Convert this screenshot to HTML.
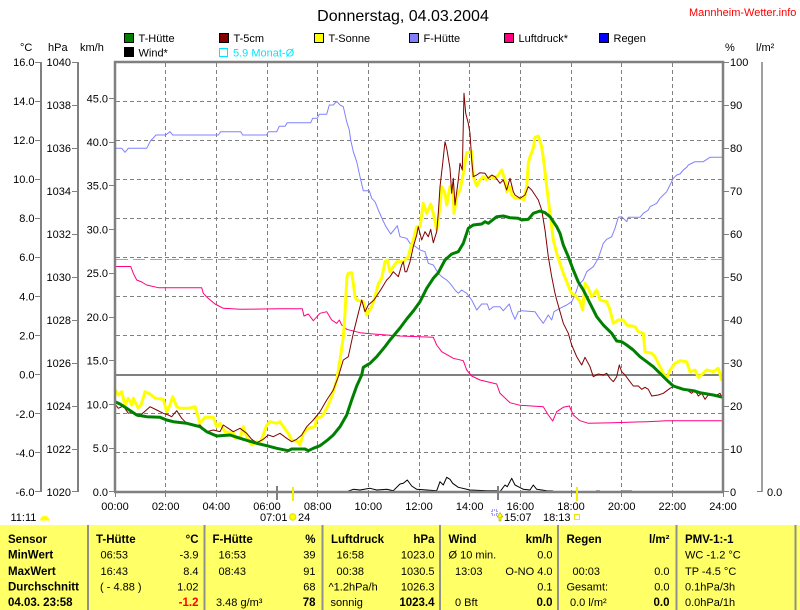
<!DOCTYPE html>
<html><head><meta charset="utf-8"><style>
html,body{margin:0;padding:0;background:#fff;width:800px;height:610px;overflow:hidden}
svg{display:block}
text{font-family:"Liberation Sans",Arial,sans-serif;font-size:11px;fill:#000}
.b{font-weight:bold;font-size:11.5px}
.e{text-anchor:end}
.m{text-anchor:middle}
</style></head><body>
<svg width="800" height="610" viewBox="0 0 800 610" xmlns="http://www.w3.org/2000/svg">
<rect width="800" height="610" fill="#fff"/>
<!-- title -->
<text x="403" y="21" class="m" style="font-size:16px">Donnerstag, 04.03.2004</text>
<text x="689" y="16" style="fill:#f00">Mannheim-Wetter.info</text>
<!-- legend -->
<g stroke="#000" stroke-width="1">
<rect x="124.5" y="33.5" width="9" height="9" fill="#008000"/>
<rect x="219.5" y="33.5" width="9" height="9" fill="#800000"/>
<rect x="314.5" y="33.5" width="9" height="9" fill="#ffff00"/>
<rect x="409.5" y="33.5" width="9" height="9" fill="#8080ff"/>
<rect x="504.5" y="33.5" width="9" height="9" fill="#ff0080"/>
<rect x="599.5" y="33.5" width="9" height="9" fill="#0000ff"/>
<rect x="124.5" y="47.5" width="9" height="9" fill="#000"/>
</g>
<rect x="219.5" y="48.5" width="8" height="8" fill="none" stroke="#00e8ff" stroke-width="1"/>
<text x="138.5" y="42">T-Hütte</text>
<text x="233.5" y="42">T-5cm</text>
<text x="328.5" y="42">T-Sonne</text>
<text x="423.5" y="42">F-Hütte</text>
<text x="518.5" y="42">Luftdruck*</text>
<text x="613.5" y="42">Regen</text>
<text x="138.5" y="56.5">Wind*</text>
<text x="233" y="56.5" style="fill:#00e8ff">5.9 Monat-Ø</text>
<!-- axis headers -->
<text x="20" y="51">°C</text>
<text x="48" y="51">hPa</text>
<text x="80" y="51">km/h</text>
<text x="725" y="51">%</text>
<text x="756" y="51">l/m²</text>
<!-- left axis lines -->
<g stroke="#808080" stroke-width="2" shape-rendering="crispEdges">
<line x1="41" y1="62" x2="41" y2="492"/>
<line x1="78" y1="62" x2="78" y2="492"/>
</g>
<line x1="762" y1="62" x2="762" y2="492" stroke="#808080" stroke-width="1.5"/>
<g stroke="#808080" stroke-width="1" shape-rendering="crispEdges">
<!-- C ticks -->
<line x1="35" y1="62.5" x2="41" y2="62.5"/><line x1="35" y1="101.5" x2="41" y2="101.5"/><line x1="35" y1="140.5" x2="41" y2="140.5"/><line x1="35" y1="179.5" x2="41" y2="179.5"/><line x1="35" y1="218.5" x2="41" y2="218.5"/><line x1="35" y1="257.5" x2="41" y2="257.5"/><line x1="35" y1="296.5" x2="41" y2="296.5"/><line x1="35" y1="335.5" x2="41" y2="335.5"/><line x1="35" y1="374.5" x2="41" y2="374.5"/><line x1="35" y1="413.5" x2="41" y2="413.5"/><line x1="35" y1="452.5" x2="41" y2="452.5"/><line x1="35" y1="491.5" x2="41" y2="491.5"/>
<!-- hPa ticks -->
<line x1="72" y1="62.5" x2="78" y2="62.5"/><line x1="72" y1="105.5" x2="78" y2="105.5"/><line x1="72" y1="148.5" x2="78" y2="148.5"/><line x1="72" y1="191.5" x2="78" y2="191.5"/><line x1="72" y1="234.5" x2="78" y2="234.5"/><line x1="72" y1="277.5" x2="78" y2="277.5"/><line x1="72" y1="320.5" x2="78" y2="320.5"/><line x1="72" y1="363.5" x2="78" y2="363.5"/><line x1="72" y1="406.5" x2="78" y2="406.5"/><line x1="72" y1="449.5" x2="78" y2="449.5"/><line x1="72" y1="491.5" x2="78" y2="491.5"/>
<!-- km/h ticks -->
<line x1="109" y1="98.5" x2="115" y2="98.5"/><line x1="109" y1="142.5" x2="115" y2="142.5"/><line x1="109" y1="185.5" x2="115" y2="185.5"/><line x1="109" y1="229.5" x2="115" y2="229.5"/><line x1="109" y1="273.5" x2="115" y2="273.5"/><line x1="109" y1="317.5" x2="115" y2="317.5"/><line x1="109" y1="360.5" x2="115" y2="360.5"/><line x1="109" y1="404.5" x2="115" y2="404.5"/><line x1="109" y1="448.5" x2="115" y2="448.5"/><line x1="109" y1="491.5" x2="115" y2="491.5"/>
<!-- % ticks -->
<line x1="723" y1="62.5" x2="729" y2="62.5"/><line x1="723" y1="105.5" x2="729" y2="105.5"/><line x1="723" y1="148.5" x2="729" y2="148.5"/><line x1="723" y1="191.5" x2="729" y2="191.5"/><line x1="723" y1="234.5" x2="729" y2="234.5"/><line x1="723" y1="277.5" x2="729" y2="277.5"/><line x1="723" y1="320.5" x2="729" y2="320.5"/><line x1="723" y1="363.5" x2="729" y2="363.5"/><line x1="723" y1="406.5" x2="729" y2="406.5"/><line x1="723" y1="449.5" x2="729" y2="449.5"/><line x1="723" y1="491.5" x2="729" y2="491.5"/>
<line x1="757" y1="491.5" x2="762" y2="491.5"/>
<!-- x ticks -->
<line x1="115.5" y1="492" x2="115.5" y2="497"/><line x1="165.5" y1="492" x2="165.5" y2="497"/><line x1="216.5" y1="492" x2="216.5" y2="497"/><line x1="267.5" y1="492" x2="267.5" y2="497"/><line x1="317.5" y1="492" x2="317.5" y2="497"/><line x1="368.5" y1="492" x2="368.5" y2="497"/><line x1="419.5" y1="492" x2="419.5" y2="497"/><line x1="469.5" y1="492" x2="469.5" y2="497"/><line x1="520.5" y1="492" x2="520.5" y2="497"/><line x1="571.5" y1="492" x2="571.5" y2="497"/><line x1="621.5" y1="492" x2="621.5" y2="497"/><line x1="672.5" y1="492" x2="672.5" y2="497"/><line x1="723.5" y1="492" x2="723.5" y2="497"/>
</g>
<!-- axis labels -->
<g class="e">
<text class="e" x="34.5" y="66">16.0</text><text class="e" x="34.5" y="105">14.0</text><text class="e" x="34.5" y="144">12.0</text><text class="e" x="34.5" y="183">10.0</text><text class="e" x="34.5" y="222">8.0</text><text class="e" x="34.5" y="261">6.0</text><text class="e" x="34.5" y="300.5">4.0</text><text class="e" x="34.5" y="339.5">2.0</text><text class="e" x="34.5" y="378.5">0.0</text><text class="e" x="34.5" y="418">-2.0</text><text class="e" x="34.5" y="457">-4.0</text><text class="e" x="34.5" y="496">-6.0</text>
<text class="e" x="71" y="66">1040</text><text class="e" x="71" y="109">1038</text><text class="e" x="71" y="152">1036</text><text class="e" x="71" y="195">1034</text><text class="e" x="71" y="238">1032</text><text class="e" x="71" y="281">1030</text><text class="e" x="71" y="324">1028</text><text class="e" x="71" y="367">1026</text><text class="e" x="71" y="410">1024</text><text class="e" x="71" y="453">1022</text><text class="e" x="71" y="496">1020</text>
<text class="e" x="108" y="102.3">45.0</text><text class="e" x="108" y="146">40.0</text><text class="e" x="108" y="189.7">35.0</text><text class="e" x="108" y="233.5">30.0</text><text class="e" x="108" y="277.2">25.0</text><text class="e" x="108" y="321">20.0</text><text class="e" x="108" y="364.7">15.0</text><text class="e" x="108" y="408.5">10.0</text><text class="e" x="108" y="452.2">5.0</text><text class="e" x="108" y="496">0.0</text>
</g>
<text x="730" y="66">100</text><text x="730" y="109">90</text><text x="730" y="152">80</text><text x="730" y="195">70</text><text x="730" y="238">60</text><text x="730" y="281">50</text><text x="730" y="324">40</text><text x="730" y="367">30</text><text x="730" y="410">20</text><text x="730" y="453">10</text><text x="730" y="496">0</text>
<text x="767" y="496">0.0</text>
<g class="m">
<text class="m" x="115" y="510">00:00</text><text class="m" x="165.7" y="510">02:00</text><text class="m" x="216.3" y="510">04:00</text><text class="m" x="267" y="510">06:00</text><text class="m" x="317.7" y="510">08:00</text><text class="m" x="368.3" y="510">10:00</text><text class="m" x="419" y="510">12:00</text><text class="m" x="469.7" y="510">14:00</text><text class="m" x="520.3" y="510">16:00</text><text class="m" x="571" y="510">18:00</text><text class="m" x="621.7" y="510">20:00</text><text class="m" x="672.3" y="510">22:00</text><text class="m" x="723" y="510">24:00</text>
</g>
<!-- grid -->
<g stroke="#808080" stroke-width="1" stroke-dasharray="4,3" shape-rendering="crispEdges">
<line x1="116" y1="101.5" x2="722" y2="101.5"/><line x1="116" y1="140.5" x2="722" y2="140.5"/><line x1="116" y1="179.5" x2="722" y2="179.5"/><line x1="116" y1="218.5" x2="722" y2="218.5"/><line x1="116" y1="257.5" x2="722" y2="257.5"/><line x1="116" y1="296.5" x2="722" y2="296.5"/><line x1="116" y1="335.5" x2="722" y2="335.5"/><line x1="116" y1="413.5" x2="722" y2="413.5"/><line x1="116" y1="452.5" x2="722" y2="452.5"/>
<line x1="165.5" y1="63" x2="165.5" y2="491"/><line x1="216.5" y1="63" x2="216.5" y2="491"/><line x1="267.5" y1="63" x2="267.5" y2="491"/><line x1="317.5" y1="63" x2="317.5" y2="491"/><line x1="368.5" y1="63" x2="368.5" y2="491"/><line x1="419.5" y1="63" x2="419.5" y2="491"/><line x1="469.5" y1="63" x2="469.5" y2="491"/><line x1="520.5" y1="63" x2="520.5" y2="491"/><line x1="571.5" y1="63" x2="571.5" y2="491"/><line x1="621.5" y1="63" x2="621.5" y2="491"/><line x1="672.5" y1="63" x2="672.5" y2="491"/>
</g>
<line x1="115" y1="375" x2="723" y2="375" stroke="#808080" stroke-width="2"/>
<line x1="116" y1="259.5" x2="722" y2="259.5" stroke="#00e8ff" stroke-width="1" stroke-dasharray="12,5"/>
<!-- series -->
<g fill="none" stroke-linejoin="round">
<polyline stroke="#8080ff" stroke-width="1" points="115,148.3 121.7,148.3 125,152.3 128.3,148.3 146.7,148.3 150.7,140.7 156,135 165.7,135 170,131.7 172.7,135 218.3,135 220.7,131.7 240.7,131.7 242.7,135 266.7,135 268.3,131.7 276.7,131.7 279.3,126.3 285,126.3 287.3,122.7 310.7,122.7 312.7,118.3 317.3,118.3 319.3,114.3 326.7,114.3 329.3,105 333.3,105 336.7,101.3 340,105 343.3,106.7 346.7,121.7 349.3,130 350.7,140 353.3,151.7 356.7,161.7 360,176.7 363.3,190.7 369.3,190.7 371.7,198.3 375,201.7 378.3,210 382.7,220 386,226.7 390.7,234 394,230 397.3,225.7 400,236.7 406.7,238.3 410,243.3 413.3,245 420,250 425,251.7 428.3,263.3 433.3,265 438.3,273.3 441.7,276.7 446.7,280 450,283.3 455,290 458.3,293.3 461.7,290 466.7,293.3 471.7,300 476.7,310 481.7,304 487.3,304 489.3,310 493.3,306.7 500,306.7 503.3,310.7 509.3,304 511.7,311.7 515,319.3 518.3,311.7 521.7,310.7 535,311.7 538.3,316.7 543.3,323.3 548.3,315 551.7,320 554,311.7 560,308.3 566.7,305 571.7,301.7 575,295 578.3,285 583.3,280 586.7,271.7 593.3,266.7 598.3,258.3 603.3,243.3 606.7,239.3 611.7,236.7 615,228.3 618.3,217.3 621.7,216.7 626.7,221.7 628.3,217.3 640,217.3 643.3,213.3 648.3,210 650,206.7 656.7,203.3 660,198.3 663.3,195 666.7,191.7 670,185 673.3,178.3 676.7,175 680,174 683.3,170 686.7,167.3 688.3,165 695,161.7 703.3,161.7 710,157.3 723,157.3"/>
<polyline stroke="#ff0080" stroke-width="1" points="115,266.5 130.7,266.5 133.3,273.3 136.7,280 141.7,282 146.7,285 158.3,287.7 201.7,287.7 203.3,293.3 206.7,297 215,304 223.3,308.3 240,309.3 280,308.7 302.3,308.7 304,316 308.3,314 313.3,320.7 320,313.3 326.7,311.7 331.7,320 336.7,323.3 339.3,320 341.7,325 346.7,329.3 360,332.7 373.3,334 386.7,335 400,336 433.3,337.3 436.7,345 441.7,351.7 453.3,358.3 463.3,360.7 466.7,370 471.7,376 480,380 496.7,384 500,393.3 510,402.7 520,405.3 543.3,406.7 548.3,415 552.7,421 556.7,411.7 563.3,407.3 569.3,406 573.3,415 580,420.7 588.3,423.3 613.3,422.7 646.7,421.7 666.7,420.7 723,420.7"/>
<polyline stroke="#000" stroke-width="1" points="346.7,491.7 353.3,489.3 360,490 370,488.3 376.7,490 386.7,489.3 393.3,490.7 400,484 403.3,483.3 407.3,480 411.7,486 416.7,489.3 426.7,490 436.7,490.7 440,481.7 443.3,485 446.7,477.3 450,479.3 452.7,483.3 458.3,487.3 470,490 486.7,490.7 496.7,490.7 500,491.7 505,485 507.3,486.7 511.7,478.3 515,485 518.3,486.7 523.3,489.3 530,490 533.3,485 536.7,489.3 546.7,490.7 553.3,491"/>
<polyline stroke="#000" stroke-width="1" points="596,491 600,491"/>
<polyline stroke="#000" stroke-width="1" points="622,491 632,491"/>
<polyline stroke="#ffff00" stroke-width="3" points="115,390 118.3,395 121.7,391.7 125,405 128.3,398.3 131.7,405 133.3,398.3 138.3,408.3 141.7,403.3 145,391.7 150,394 155,398.3 163.3,399.3 166.7,411.7 170,405 172.7,396.7 176.7,406.7 180,408.3 188.3,408.3 195,406.7 200,423.3 205,417.3 213.3,417.3 216.7,426.7 220,423.3 225,431.7 233.3,432.7 235,438.3 240,438.3 243.3,426.7 246.7,436.7 251.7,445 256.7,441.7 260,444 266.7,425 270,421.7 276.7,423.3 280,421.7 283.3,426.7 288.3,433.3 291.7,440 298.3,441.7 300,445 303.3,433.3 308.3,428.3 315,426.7 316.7,418.3 321.7,416.7 326.7,408.3 331.7,396.7 336.7,380 340,360 343.3,336.7 345,313.3 346.5,285 347,276.7 348.3,273.3 351.7,272.7 353.3,283.3 355,296.7 356.7,300 363.3,301.7 366.7,315 371.7,306.7 375,296.7 378.3,284 381.7,278.3 385,261.7 387.3,260 390,271.7 393.3,266.7 396.7,261.7 403.3,261.7 405,260 408.3,256.7 410,250 413.3,240 416.7,226.7 420,226.7 423.3,203.3 426.7,213.3 430.7,204 433.3,213.3 436.7,230 440,206.7 441.7,186.7 445,193.3 446.7,205 450,186.7 452.7,185 454,213.3 456.7,196.7 460,190 463.3,173.3 466.7,152.7 471.7,151.7 473.3,176.7 476.7,186 480,180 483.3,176.7 486.7,180 490,176.7 495,178.3 498.3,175 501.7,170 505,180 506.7,191.7 510,186.7 511.7,195 515,198.3 521.7,198.3 524,200 526.7,186.7 528.3,163.3 530,156.7 533.3,148.3 535,137.3 538.3,136 541.7,146.7 544,163.3 546.7,186.7 550,213.3 553.3,240 556.7,253.3 560,263.3 563.3,273.3 566.7,281.7 570,290 571.7,293.3 575,295 580,301.7 582.7,310 585,283.3 588.3,288.3 591.7,296.7 596.7,290 600,300 606.7,301.7 610,310 613.3,323.3 618.3,320 623.3,320 626.7,325 635,326.7 638.3,331.7 643.3,333.3 645,351.7 651.7,353.3 655,356.7 658.3,363.3 663.3,373.3 666.7,378.3 670,370 675,363.3 680,360.7 686.7,361.7 690,371.7 695,370 698.3,377.3 703.3,373.3 706.7,370 713.3,371.7 718.3,368.3 721.7,380 723.3,380"/>
<polyline stroke="#800000" stroke-width="1" points="115,404 118.3,408.3 123.3,406 128.3,413.3 133.3,411.7 138.3,416.7 143.3,412.7 150,406.7 156.7,410 163.3,413.3 168.3,415 171.7,416.7 176.7,410.7 181.7,418.3 186.7,423.3 193.3,426 200,425 206.7,431.7 213.3,430 220,431.7 223.3,425 228.3,428.3 233.3,431.7 240,428.3 246.7,433.3 251.7,439.3 256.7,442.7 263.3,439.3 268.3,435 273.3,436.7 280,433.3 286.7,438.3 291.7,441.7 296.7,439.3 301.7,435 306.7,426.7 313.3,420 320,411.7 326.7,400 333.3,390 338.3,376.7 343.3,360 348.3,356.7 353.3,333.3 358.3,313.3 361.7,300 365,311.7 368.3,305 374,300 381.7,288.3 386.7,280 390,276.7 393.3,271.7 398.3,276.7 401.7,265 403.3,261.7 405,271.7 406.7,271.7 410,261.7 413.3,246.7 416.7,235 418.3,226.7 421.7,240 425,231.7 428.3,236.7 430.7,229.3 433.3,242.7 436.7,231.7 438.3,213.3 440,186.7 442.7,163.3 445,141.7 446.7,148.3 450,168.3 451.7,193.3 453.3,178.3 455,205 458.3,180 460,163.3 462.3,170 464,93.3 465.7,113.3 468.3,123.3 470,133.3 471.7,160 473.3,176.7 476.7,175 480,172.7 485,173.3 488.3,178.3 491.7,175 495,176.7 500,183.3 503.3,180 506.7,190 510,178.3 513.3,191.7 515,195 520,198.3 525,195 528.3,186.7 531.7,190 535,195 538.3,200 541.7,210 545,230 548.3,256.7 551.7,276.7 555,293.3 556.7,300 563.3,323.3 568.3,333.3 571.7,345 576.7,356.7 581.7,365 585,357.3 590,366.7 593.3,376.7 598.3,374 603.3,375 606.7,373.3 610,378.3 613.3,381.7 616.7,376.7 619.3,365 621.7,371.7 625,375 630,381.7 633.3,386 638.3,386 641.7,389.3 645,387.3 648.3,389.3 651.7,396 658.3,395 663.3,393.3 670,388.3 673.3,386.7 680,387.3 686.7,390 691.7,393.3 695,390 698.3,396 701.7,393.3 705,399.3 708.3,395 715,396 720,393.3 721.7,396.7 723,397"/>
<polyline stroke="#008000" stroke-width="3" points="115,401.7 120,404 126.7,408.3 136.7,415 146.7,416.7 160,417.3 166.7,420 173.3,421.7 186.7,423.3 200,426.7 206.7,431.7 216.7,436 230,435 243.3,439.3 256.7,443.3 266.7,445.7 276.7,448.3 288.3,450.7 291.7,449 305,449 308.3,450.7 313.3,448.3 320,445.7 326.7,440.7 333.3,435 340,426.7 346.7,415 351.7,400 356.7,386 361.7,375 363.3,367.3 370,363.3 376.7,356.7 385,346.7 390,340 400,328 406.7,319 413.3,311 420,301.7 426.7,288.3 433.3,278.3 438.3,272.7 445,260 451.7,254 458.3,251.7 463.3,243.3 468.3,228.3 473.3,225 481.7,224 485,221.7 488.3,223.3 496.7,216.7 503.3,216 510,217.7 518.3,218.3 521.7,220 528.3,219.3 533.3,213.3 540,211 545,212.7 550,216.7 556.7,226.7 560,233.3 563.3,245 568.3,256.7 573.3,270 578.3,282 583.3,290 590,303.3 596.7,316.7 603.3,325 611.7,333.3 616.7,341 621.7,341.7 626.7,345 633.3,350 640,356.7 646.7,361.7 653.3,366.7 660,373.3 666.7,380 673.3,386 683.3,389.3 693.3,390.7 700,392.7 713.3,395 723,397.3"/>
</g>
<!-- plot border -->
<g stroke="#808080" stroke-width="2.5" fill="none">
<polyline points="115,492 115,62 723,62 723,492"/>
<line x1="114" y1="492" x2="724" y2="492"/>
</g>
<!-- sun markers -->
<line x1="277" y1="486" x2="277" y2="500" stroke="#808080" stroke-width="2"/>
<line x1="293" y1="487" x2="293" y2="501" stroke="#f0f000" stroke-width="2"/>
<line x1="498" y1="486" x2="498" y2="500" stroke="#808080" stroke-width="2"/>
<line x1="577" y1="487" x2="577" y2="501" stroke="#f0f000" stroke-width="2"/>
<text x="10.5" y="521">11:11</text>
<path d="M40,520.5 A4.7,4.7 0 0 1 49.4,520.5 Z" fill="#ffff00"/>
<text x="260" y="521">07:01</text>
<circle cx="292.7" cy="517" r="3.2" fill="#ffff00" stroke="#e0e000" stroke-width="1"/>
<text x="298" y="521">24</text>
<rect x="492" y="510" width="5" height="5" fill="none" stroke="#4040ff" stroke-width="1" stroke-dasharray="1,1"/>
<path d="M500,512.5 L503,517 L501,517 L501,521 L499,521 L499,517 L497,517 Z" fill="#ffff00" stroke="#808000" stroke-width="0.5"/>
<text x="504" y="521">15:07</text>
<text x="543" y="521">18:13</text>
<rect x="574.5" y="514.5" width="5" height="5" fill="none" stroke="#e8e800" stroke-width="1"/>
<!-- table -->
<rect x="0" y="525" width="800" height="85" fill="#ffff66"/>
<g stroke="#909090" stroke-width="2">
<line x1="88" y1="525" x2="88" y2="610"/><line x1="204.5" y1="525" x2="204.5" y2="610"/><line x1="322.5" y1="525" x2="322.5" y2="610"/><line x1="440" y1="525" x2="440" y2="610"/><line x1="558" y1="525" x2="558" y2="610"/><line x1="676.5" y1="525" x2="676.5" y2="610"/><line x1="795.5" y1="525" x2="795.5" y2="610"/>
</g>
<text class="b" x="8" y="543">Sensor</text>
<text class="b" x="8" y="558.5">MinWert</text>
<text class="b" x="8" y="575">MaxWert</text>
<text class="b" x="8" y="590.7">Durchschnitt</text>
<text class="b" x="8" y="606">04.03. 23:58</text>

<text class="b" x="96" y="543">T-Hütte</text><text class="b e" x="198.5" y="543">°C</text>
<text x="100.5" y="558.5">06:53</text><text class="e" x="198.5" y="558.5">-3.9</text>
<text x="100.5" y="575">16:43</text><text class="e" x="198.5" y="575">8.4</text>
<text x="100" y="590.7">( - 4.88 )</text><text class="e" x="198.5" y="590.7">1.02</text>
<text class="b e" x="198.5" y="606" style="fill:#f00">-1.2</text>

<text class="b" x="212.5" y="543">F-Hütte</text><text class="b e" x="315.5" y="543">%</text>
<text x="218.5" y="558.5">16:53</text><text class="e" x="315.5" y="558.5">39</text>
<text x="218.5" y="575">08:43</text><text class="e" x="315.5" y="575">91</text>
<text class="e" x="315.5" y="590.7">68</text>
<text x="216" y="606">3.48 g/m³</text><text class="b e" x="315.5" y="606">78</text>

<text class="b" x="331" y="543">Luftdruck</text><text class="b e" x="434.5" y="543">hPa</text>
<text x="336.5" y="558.5">16:58</text><text class="e" x="434.5" y="558.5">1023.0</text>
<text x="336.5" y="575">00:38</text><text class="e" x="434.5" y="575">1030.5</text>
<text x="328.5" y="590.7">^1.2hPa/h</text><text class="e" x="434.5" y="590.7">1026.3</text>
<text x="330.5" y="606">sonnig</text><text class="b e" x="434.5" y="606">1023.4</text>

<text class="b" x="448.5" y="543">Wind</text><text class="b e" x="552.5" y="543">km/h</text>
<text x="448.5" y="558.5">Ø 10 min.</text><text class="e" x="552.5" y="558.5">0.0</text>
<text x="455" y="575">13:03</text><text class="e" x="552.5" y="575">O-NO 4.0</text>
<text class="e" x="552.5" y="590.7">0.1</text>
<text x="455" y="606">0 Bft</text><text class="b e" x="552.5" y="606">0.0</text>

<text class="b" x="566.5" y="543">Regen</text><text class="b e" x="669.5" y="543">l/m²</text>
<text x="572.5" y="575">00:03</text><text class="e" x="669.5" y="575">0.0</text>
<text x="566.5" y="590.7">Gesamt:</text><text class="e" x="669.5" y="590.7">0.0</text>
<text x="570" y="606">0.0 l/m²</text><text class="b e" x="669.5" y="606">0.0</text>

<text class="b" x="685" y="543">PMV-1:-1</text>
<text x="685" y="558.5">WC -1.2 °C</text>
<text x="685" y="575">TP -4.5 °C</text>
<text x="685" y="590.7">0.1hPa/3h</text>
<text x="685" y="606">0.0hPa/1h</text>
</svg>
</body></html>
